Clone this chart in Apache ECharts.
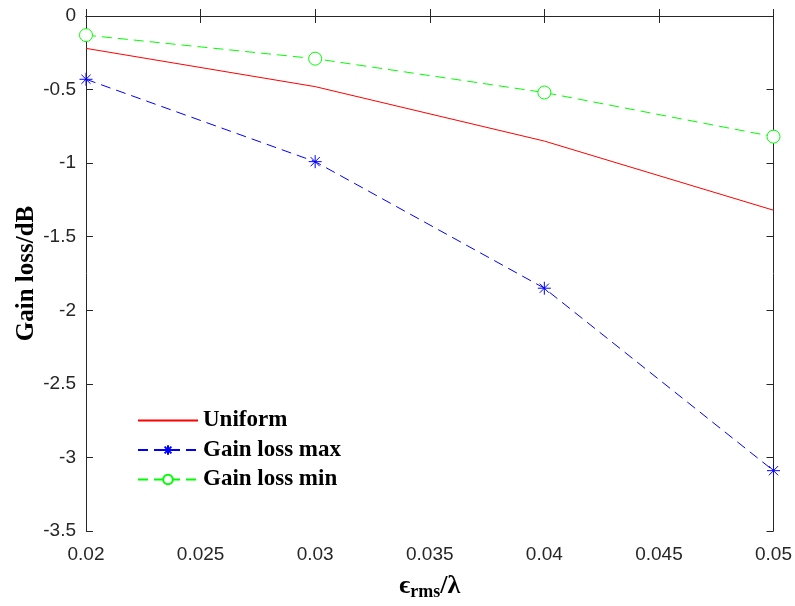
<!DOCTYPE html>
<html><head><meta charset="utf-8">
<script src="https://cdn.jsdelivr.net/npm/echarts@6/dist/echarts.min.js"></script>
<style>html,body{margin:0;padding:0;background:#fff}#c{width:795px;height:606px}</style>
</head><body><div id="c"></div>
<script>
const xValues = [0.02, 0.03, 0.04, 0.05];
const uniform = [-0.22, -0.48, -0.85, -1.32];
const gainLossMax = [-0.43, -0.99, -1.85, -3.09];
const gainLossMin = [-0.13, -0.29, -0.52, -0.82];
const seriesNames = ['Uniform', 'Gain loss max', 'Gain loss min'];
const xTicks = [0.02, 0.025, 0.03, 0.035, 0.04, 0.045, 0.05];
const yTicks = [0, -0.5, -1, -1.5, -2, -2.5, -3, -3.5];

const pair = (ys) => xValues.map((x, i) => [x, ys[i]]);
const asterisk = 'path://M0,-10L0,10M-10,0L10,0M-7.07,-7.07L7.07,7.07M-7.07,7.07L7.07,-7.07';
const axisLabelStyle = {color: '#262626', fontFamily: 'Liberation Sans, Arial', fontSize: 19};

const chart = echarts.init(document.getElementById('c'), null, {renderer: 'canvas'});
const xBase = {type: 'value', min: 0.02, max: 0.05, interval: 0.005,
  axisLine: {show: true, lineStyle: {color: '#262626', width: 1}},
  axisTick: {show: true, inside: true, length: 7, lineStyle: {color: '#262626'}},
  splitLine: {show: false}};
const yBase = {type: 'value', min: -3.5, max: 0, interval: 0.5,
  axisLine: {show: true, lineStyle: {color: '#262626', width: 1}},
  axisTick: {show: true, inside: true, length: 7, lineStyle: {color: '#262626'}},
  splitLine: {show: false}};
const serif = 'Liberation Serif, Times New Roman';

chart.setOption({
  animation: false,
  backgroundColor: '#fff',
  grid: {left: 86, right: 20, top: 16, bottom: 72, containLabel: false},
  xAxis: [
    Object.assign({}, xBase, {position: 'bottom',
      axisLabel: Object.assign({}, axisLabelStyle, {margin: 14, formatter: v => String(+v.toFixed(3))}),
      name: '{e|ϵ}{s|rms}{e|/λ}', nameLocation: 'middle', nameGap: 40, nameMoveOverlap: false,
      nameTextStyle: {rich: {
        e: {fontFamily: serif, fontWeight: 'bold', fontSize: 26, color: '#000'},
        s: {fontFamily: serif, fontWeight: 'bold', fontSize: 18, color: '#000', verticalAlign: 'bottom', padding: [12, 0, 0, 0]}
      }}}),
    Object.assign({}, xBase, {position: 'top', axisLabel: {show: false}})
  ],
  yAxis: [
    Object.assign({}, yBase, {position: 'left',
      axisLabel: Object.assign({}, axisLabelStyle, {margin: 10, formatter: v => String(v)}),
      name: 'Gain loss/dB', nameLocation: 'middle', nameGap: 47, nameMoveOverlap: false,
      nameTextStyle: {fontFamily: serif, fontWeight: 'bold', fontSize: 25, color: '#000'}}),
    Object.assign({}, yBase, {position: 'right', axisLabel: {show: false}})
  ],
  legend: {
    orient: 'vertical', left: 137, top: 409, padding: 0, itemWidth: 60, itemHeight: 12, itemGap: 6.5,
    textStyle: {fontFamily: serif, fontWeight: 'bold', fontSize: 23, color: '#000'},
    data: seriesNames
  },
  series: [
    {name: seriesNames[0], type: 'line', data: pair(uniform), symbol: 'circle', showSymbol: false,
      lineStyle: {color: '#ff0000', width: 1}, itemStyle: {color: 'rgba(0,0,0,0)'}},
    {name: seriesNames[1], type: 'line', data: pair(gainLossMax), symbol: asterisk, symbolSize: 13,
      lineStyle: {color: '#0000ff', width: 1, type: [10, 6]},
      itemStyle: {color: 'none', borderColor: '#0000ff', borderWidth: 1}},
    {name: seriesNames[2], type: 'line', data: pair(gainLossMin), symbol: 'circle', symbolSize: 13,
      lineStyle: {color: '#00ff00', width: 1, type: [10, 6]},
      itemStyle: {color: '#ffffff', borderColor: '#00ff00', borderWidth: 1}}
  ]
});
</script></body></html>
